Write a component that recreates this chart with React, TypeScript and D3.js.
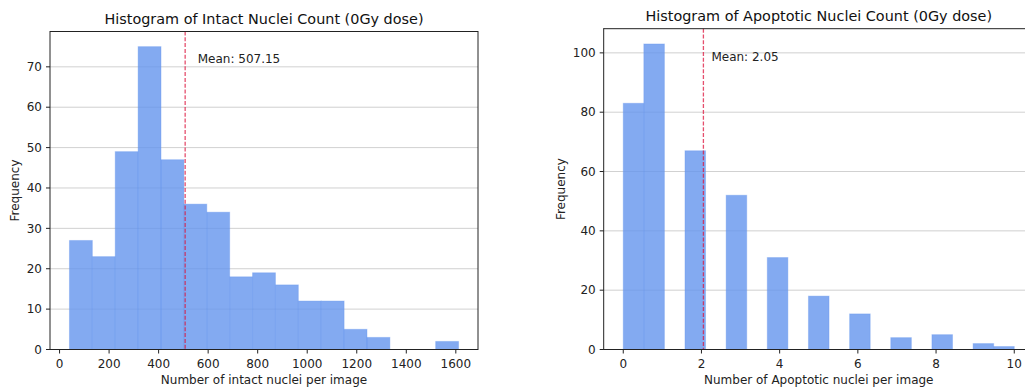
import React, { useEffect, useRef } from 'react';
import * as d3 from 'd3';

// histogram counts
const intactCounts = [27, 23, 49, 75, 47, 36, 34, 18, 19, 16, 12, 12, 5, 3, 0, 0, 2];
const intactRange = [40, 1611];
const intactMean = 507.15;
const intactXTicks = [0, 200, 400, 600, 800, 1000, 1200, 1400, 1600];
const intactYTicks = [0, 10, 20, 30, 40, 50, 60, 70];

const apoCounts = [83, 103, 0, 67, 0, 52, 0, 31, 0, 18, 0, 12, 0, 4, 0, 5, 0, 2, 1];
const apoRange = [0, 10];
const apoMean = 2.05;
const apoXTicks = [0, 2, 4, 6, 8, 10];
const apoYTicks = [0, 20, 40, 60, 80, 100];

const FONT = 'DejaVu Sans, sans-serif';
const FS = 12;

const drawHist = (svg, opts) => {
  const { box, counts, range, mean, xTicks, yTicks, title, xLabel, rightSpine } = opts;
  const [lo, hi] = range;
  const pad = (hi - lo) * 0.05;
  const x = d3.scaleLinear().domain([lo - pad, hi + pad]).range([box.left, box.right]);
  const yMax = d3.max(counts) * 1.05;
  const y = d3.scaleLinear().domain([0, yMax]).range([box.bottom, box.top]);
  const bw = (hi - lo) / counts.length;

  const g = svg.append('g');

  // grid (below bars)
  g.selectAll('.grid')
    .data(yTicks)
    .enter()
    .append('line')
    .attr('x1', box.left)
    .attr('x2', box.right)
    .attr('y1', d => y(d))
    .attr('y2', d => y(d))
    .attr('stroke', '#b0b0b0')
    .attr('stroke-opacity', 0.6)
    .attr('stroke-width', 1);

  // bars
  g.selectAll('.bar')
    .data(counts.map((c, i) => ({ c, x0: lo + i * bw, x1: lo + (i + 1) * bw })).filter(d => d.c > 0))
    .enter()
    .append('rect')
    .attr('x', d => x(d.x0))
    .attr('y', d => y(d.c))
    .attr('width', d => x(d.x1) - x(d.x0))
    .attr('height', d => y(0) - y(d.c))
    .attr('fill', '#6495ED')
    .attr('fill-opacity', 0.8)
    .attr('stroke', '#6495ED')
    .attr('stroke-opacity', 0.35)
    .attr('stroke-width', 1);

  // mean line
  g.append('line')
    .attr('x1', x(mean))
    .attr('x2', x(mean))
    .attr('y1', box.top)
    .attr('y2', box.bottom)
    .attr('stroke', '#DC143C')
    .attr('stroke-opacity', 0.75)
    .attr('stroke-width', 1.3)
    .attr('stroke-dasharray', '4 1.8');

  g.append('text')
    .attr('x', x(mean * 1.1))
    .attr('y', y(yMax * 0.9))
    .attr('font-family', FONT)
    .attr('font-size', FS)
    .attr('fill', '#222')
    .text(`Mean: ${mean.toFixed(2)}`);

  // spines
  const spine = (x1, y1, x2, y2) =>
    g.append('line')
      .attr('x1', x1).attr('y1', y1).attr('x2', x2).attr('y2', y2)
      .attr('stroke', '#222').attr('stroke-width', 1);
  spine(box.left, box.top, box.right, box.top);
  spine(box.left, box.bottom, box.right, box.bottom);
  spine(box.left, box.top - 0.5, box.left, box.bottom + 0.5);
  if (rightSpine) spine(box.right, box.top - 0.5, box.right, box.bottom + 0.5);

  // x ticks
  const xt = g.selectAll('.xt').data(xTicks).enter().append('g')
    .attr('transform', d => `translate(${x(d)},${box.bottom})`);
  xt.append('line').attr('y2', 4).attr('stroke', '#222').attr('stroke-width', 1);
  xt.append('text')
    .attr('y', 18)
    .attr('text-anchor', 'middle')
    .attr('font-family', FONT)
    .attr('font-size', FS)
    .attr('fill', '#222')
    .text(d => d);

  // y ticks
  const yt = g.selectAll('.yt').data(yTicks).enter().append('g')
    .attr('transform', d => `translate(${box.left},${y(d)})`);
  yt.append('line').attr('x2', -4).attr('stroke', '#222').attr('stroke-width', 1);
  yt.append('text')
    .attr('x', -8)
    .attr('dy', '0.35em')
    .attr('text-anchor', 'end')
    .attr('font-family', FONT)
    .attr('font-size', FS)
    .attr('fill', '#222')
    .text(d => d);

  // labels
  const cx = (box.left + box.right) / 2;
  g.append('text')
    .attr('x', cx)
    .attr('y', box.top - 8)
    .attr('text-anchor', 'middle')
    .attr('font-family', FONT)
    .attr('font-size', 14.4)
    .attr('fill', '#111')
    .text(title);

  g.append('text')
    .attr('x', cx)
    .attr('y', box.bottom + 34)
    .attr('text-anchor', 'middle')
    .attr('font-family', FONT)
    .attr('font-size', FS)
    .attr('fill', '#222')
    .text(xLabel);

  g.append('text')
    .attr('transform', `translate(${box.yLabelX},${(box.top + box.bottom) / 2}) rotate(-90)`)
    .attr('text-anchor', 'middle')
    .attr('dy', '0.35em')
    .attr('font-family', FONT)
    .attr('font-size', FS)
    .attr('fill', '#222')
    .text('Frequency');
};

const App = () => {
  const svgRef = useRef(null);

  useEffect(() => {
    const svg = d3.select(svgRef.current);
    svg.selectAll('*').remove();

    drawHist(svg, {
      box: { left: 50, right: 478, top: 31.5, bottom: 349.5, yLabelX: 15 },
      counts: intactCounts,
      range: intactRange,
      mean: intactMean,
      xTicks: intactXTicks,
      yTicks: intactYTicks,
      title: 'Histogram of Intact Nuclei Count (0Gy dose)',
      xLabel: 'Number of intact nuclei per image',
      rightSpine: true,
    });

    drawHist(svg, {
      box: { left: 603.7, right: 1033.8, top: 28.7, bottom: 349.5, yLabelX: 561 },
      counts: apoCounts,
      range: apoRange,
      mean: apoMean,
      xTicks: apoXTicks,
      yTicks: apoYTicks,
      title: 'Histogram of Apoptotic Nuclei Count (0Gy dose)',
      xLabel: 'Number of Apoptotic nuclei per image',
      rightSpine: true,
    });
  }, []);

  return (
    <div style={{ position: 'absolute', left: 0, top: 0, width: 1025, height: 390, background: '#fff', overflow: 'hidden' }}>
      <svg ref={svgRef} width={1025} height={390}></svg>
    </div>
  );
};

export default App;
